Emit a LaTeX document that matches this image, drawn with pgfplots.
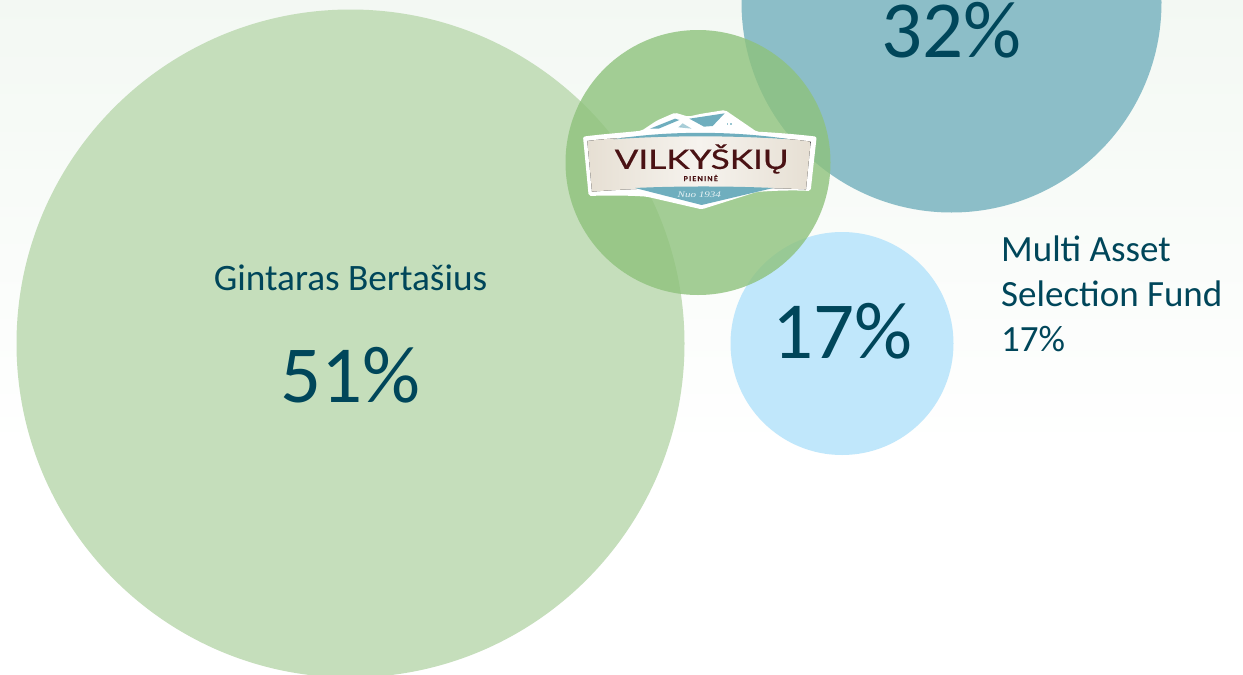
\documentclass[border=0pt]{standalone}
\usepackage{pgfplots}
\pgfplotsset{compat=1.18}
\usepackage{fontspec}
\setmainfont{Carlito}
\newfontfamily\logofont[FakeBold=0.5]{Lato}
\newfontfamily\nuofont{Liberation Serif}
\definecolor{txt}{HTML}{00465A}
\definecolor{bigg}{HTML}{C5DEBB}
\definecolor{midg}{HTML}{8EC27C}
\definecolor{teal2}{HTML}{8CBEC8}
\definecolor{lblue}{HTML}{C0E7FB}
\definecolor{bgtop}{HTML}{EFF6EF}
\definecolor{maroon2}{HTML}{4A1214}
\definecolor{beige}{HTML}{E6DFD3}
\definecolor{beigemid}{HTML}{F6F3EE}
\definecolor{logoblue}{HTML}{6FAEBE}
\pgfplotsset{base/.style={
  width=1243pt, height=675pt, scale only axis,
  xmin=0, xmax=1243, ymin=0, ymax=675, y dir=reverse,
  axis lines=none, ticks=none}}
\begin{document}
\begin{tikzpicture}
\path[use as bounding box] (0,0) rectangle (1243pt,675pt);
\clip (0,0) rectangle (1243pt,675pt);
\begin{axis}[base, clip=false,
  every axis plot/.append style={only marks, mark=*},
]
\fill[white] (axis cs:0,0) rectangle (axis cs:1243,675);
\fill[top color=bgtop, bottom color=white] (axis cs:0,-150) rectangle (axis cs:1243,450);
% Gintaras Bertasius 51%
\addplot[mark size=334pt, mark options={draw opacity=0, fill=bigg}] coordinates {(350.5,343.5)};
% 32%
\addplot[mark size=210pt, mark options={draw opacity=0, fill=teal2}] coordinates {(951.5,2.5)};
% Multi Asset Selection Fund 17%
\addplot[mark size=111.5pt, mark options={draw opacity=0, fill=lblue}] coordinates {(842,343.5)};
% logo circle
\addplot[mark size=132.5pt, mark options={draw opacity=0, fill=midg, fill opacity=0.8}] coordinates {(698,162.5)};
\end{axis}
\begin{axis}[base]
\node[text=txt, font=\fontsize{37.3}{40}\selectfont] at (axis cs:350.5,278) {Gintaras Bertašius};
\node[text=txt, font=\fontsize{81}{82}\selectfont] at (axis cs:350.5,375) {51\%};
\node[text=txt, font=\fontsize{81}{82}\selectfont] at (axis cs:951.5,30) {32\%};
\node[text=txt, font=\fontsize{81}{82}\selectfont] at (axis cs:842.5,331) {17\%};
\node[text=txt, font=\fontsize{37}{45}\selectfont, align=left, anchor=north west, inner sep=0pt] at (axis cs:1001,236) {Multi Asset\\Selection Fund\\17\%};
% logo, in crop coordinates
\begin{scope}[shift={(axis cs:560,90)}, x=0.3333pt, y=-0.3333pt]
\fill[white, rounded corners=2pt] (69,140) .. controls (130,132) and (190,128) .. (245,122) -- (290,92) -- (345,68) -- (385,80) -- (420,72) -- (495,60) -- (590,125) .. controls (650,128) and (710,133) .. (770,140) -- (752,303) .. controls (700,300) and (640,302) .. (590,306) -- (425,358) -- (260,320) .. controls (200,316) and (140,316) .. (86,318) -- cycle;
\fill[left color=beige, right color=beige, middle color=beigemid] (82,153) .. controls (250,132) and (600,132) .. (752,155) -- (738,298) .. controls (560,290) and (270,290) .. (96,305) -- cycle;
\fill[logoblue] (160,148) .. controls (320,122) and (520,122) .. (690,148) .. controls (520,136) and (320,136) .. (160,148) -- cycle;
\fill[logoblue] (225,294) .. controls (350,288) and (510,288) .. (640,294) -- (425,345) -- cycle;
\fill[logoblue] (270,116) -- (345,86) -- (358,90) -- (296,116) -- cycle;
\fill[logoblue] (388,86) -- (494,70) -- (458,108) -- (432,110) -- cycle;
\fill[logoblue!60] (355,112) -- (368,100) -- (395,116) -- cycle;
\fill[logoblue!70] (360,108) rectangle (366,112);
\fill[logoblue!70] (500,98) rectangle (505,106);
\fill[logoblue!70] (510,98) rectangle (515,106);
\node[text=maroon2, font=\logofont\fontsize{27}{28}\selectfont, inner sep=0pt] at (425,207) {\scalebox{1.3}[1]{VILKYŠKIŲ}};
\node[text=maroon2, font=\logofont\bfseries\fontsize{7}{8}\selectfont, inner sep=0pt] at (422,264) {P\,I\,E\,N\,I\,N\,Ė};
\node[text=white!85!logoblue, font=\nuofont\itshape\fontsize{8.5}{9}\selectfont, inner sep=0pt] at (418,314) {\scalebox{1.3}[1]{Nuo 1934}};
\end{scope}
\end{axis}
\end{tikzpicture}
\end{document}
